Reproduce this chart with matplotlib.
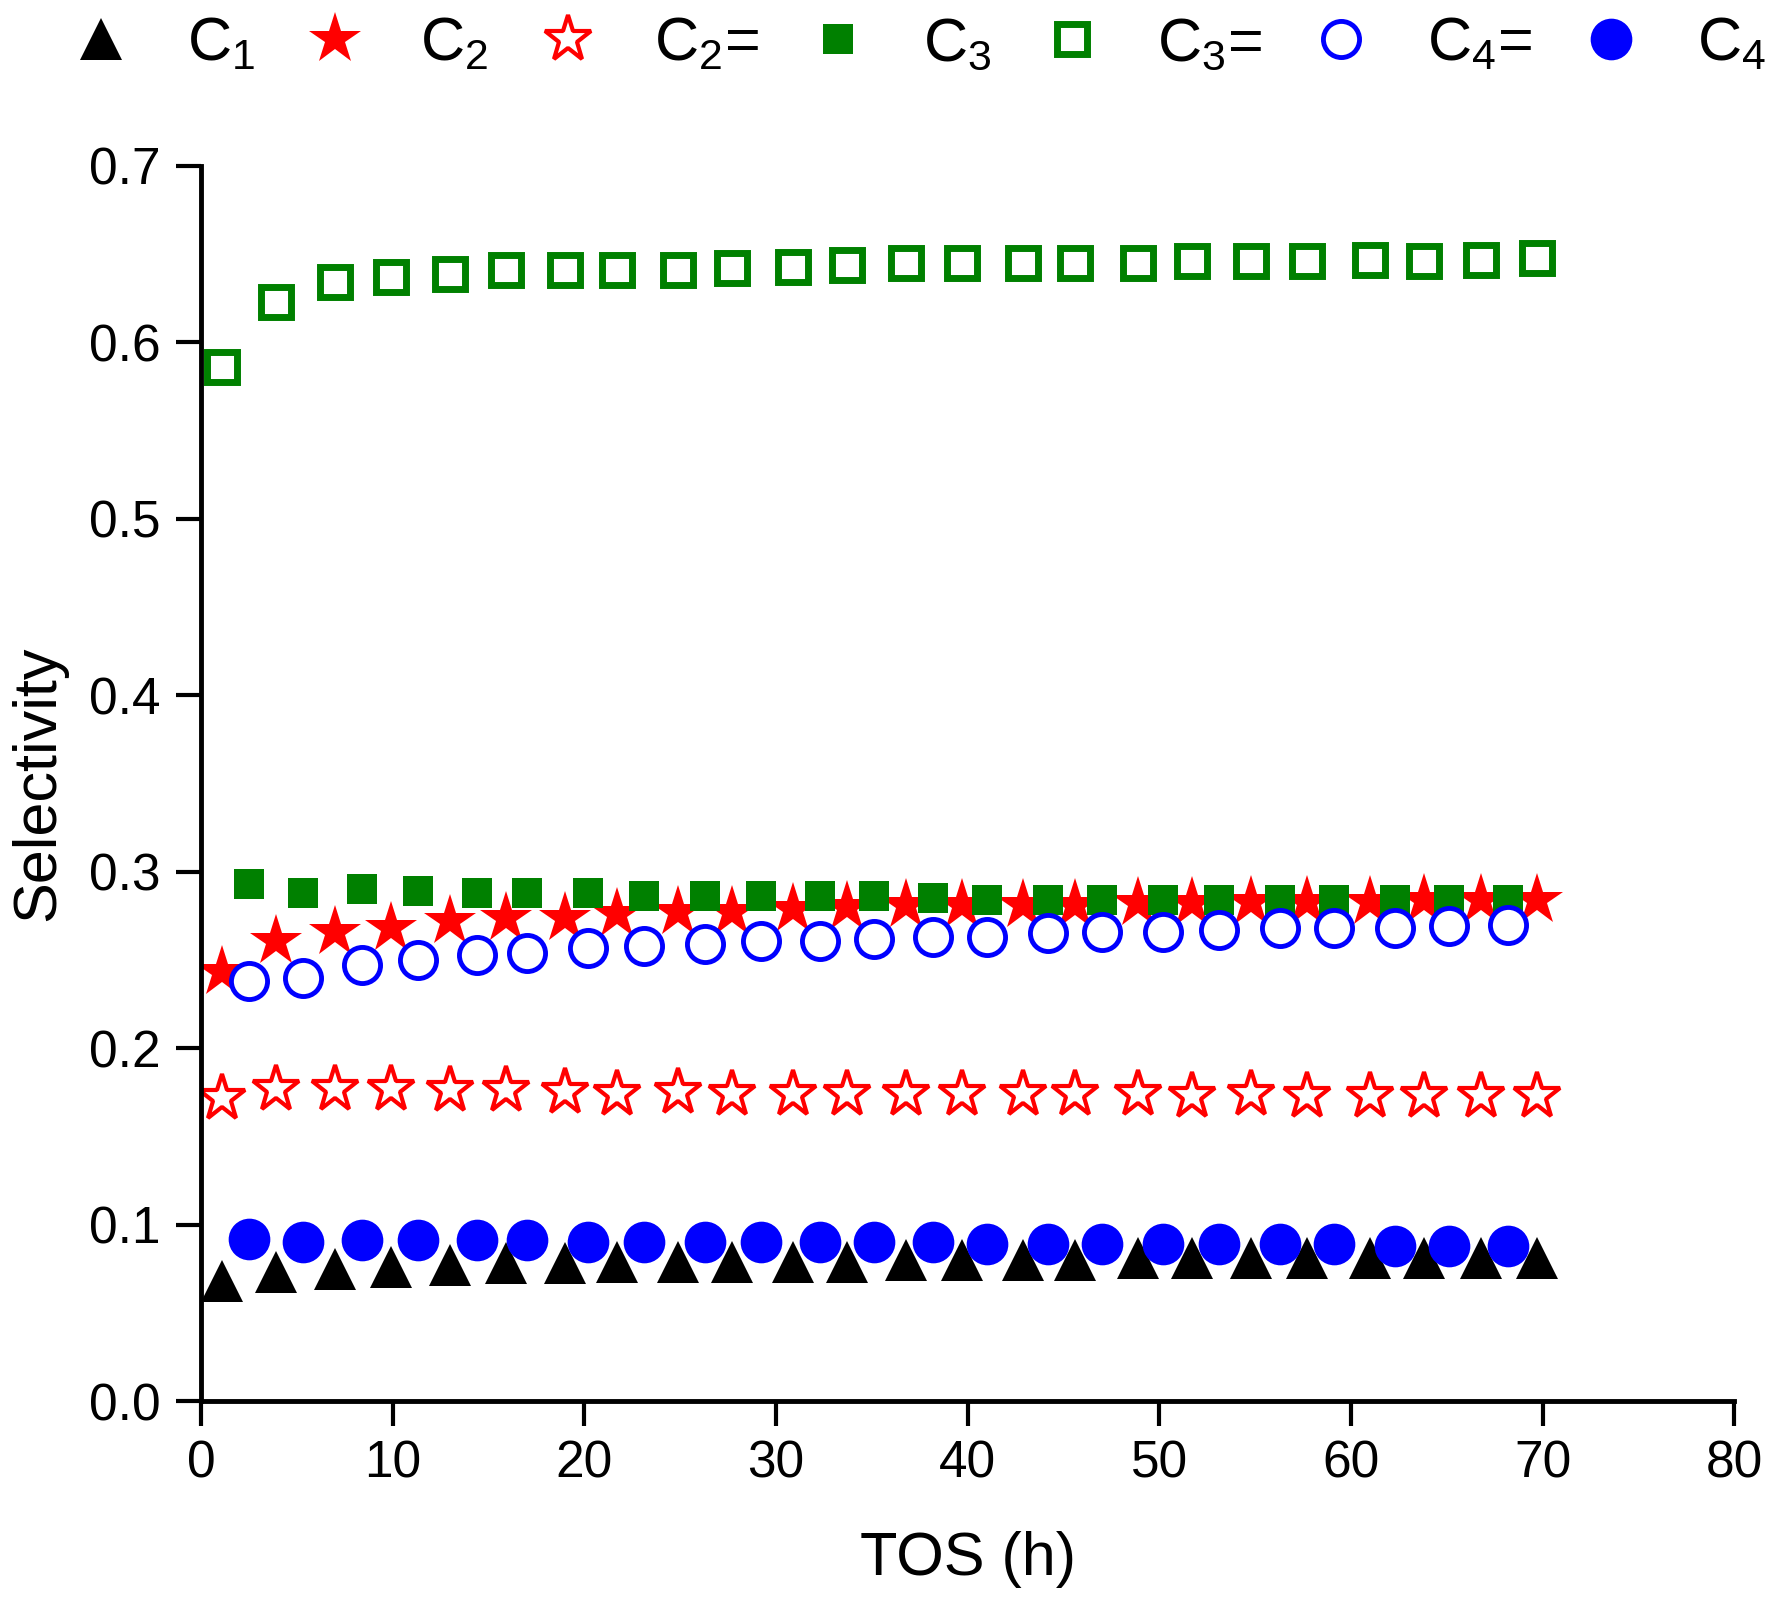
import matplotlib
matplotlib.use("Agg")
from matplotlib import pyplot as plt

plt.rcParams["font.family"] = ["Liberation Sans", "DejaVu Sans"]
plt.rcParams["mathtext.fontset"] = "custom"
plt.rcParams["mathtext.rm"] = "Liberation Sans"
plt.rcParams["mathtext.default"] = "regular"

# time on stream (h), two interleaved sampling sets
tos_a = [1.1, 3.9, 7.0, 9.9, 13.0, 15.9, 19.0, 21.7, 24.9, 27.7, 30.9, 33.7,
         36.8, 39.7, 42.9, 45.6, 48.9, 51.7, 54.8, 57.7, 61.0, 63.8, 66.8, 69.7]
tos_b = [2.5, 5.3, 8.4, 11.3, 14.4, 17.0, 20.2, 23.1, 26.3, 29.2, 32.3, 35.1,
         38.2, 41.0, 44.2, 47.0, 50.2, 53.1, 56.3, 59.1, 62.3, 65.1, 68.2]

c1 = [0.068, 0.073, 0.075, 0.076, 0.077, 0.078, 0.078, 0.079, 0.079, 0.079, 0.079, 0.079,
      0.080, 0.080, 0.080, 0.080, 0.081, 0.081, 0.081, 0.081, 0.081, 0.081, 0.081, 0.081]
c2 = [0.243, 0.261, 0.266, 0.268, 0.272, 0.274, 0.274, 0.276, 0.277, 0.277, 0.279, 0.280,
      0.281, 0.281, 0.281, 0.281, 0.282, 0.282, 0.283, 0.283, 0.283, 0.284, 0.284, 0.284]
c2_ene = [0.172, 0.177, 0.177, 0.177, 0.176, 0.176, 0.175, 0.174, 0.175, 0.174, 0.174, 0.174,
          0.174, 0.174, 0.174, 0.174, 0.174, 0.173, 0.174, 0.173, 0.173, 0.173, 0.173, 0.173]
c3 = [0.293, 0.288, 0.290, 0.289, 0.288, 0.288, 0.288, 0.286, 0.286, 0.286, 0.286, 0.286,
      0.285, 0.284, 0.284, 0.284, 0.284, 0.284, 0.284, 0.284, 0.284, 0.284, 0.284]
c3_ene = [0.586, 0.623, 0.634, 0.637, 0.639, 0.641, 0.641, 0.641, 0.641, 0.642, 0.643, 0.644,
          0.645, 0.645, 0.645, 0.645, 0.645, 0.646, 0.646, 0.646, 0.647, 0.646, 0.647, 0.648]
c4_ene = [0.238, 0.240, 0.247, 0.250, 0.253, 0.254, 0.257, 0.258, 0.259, 0.261, 0.261, 0.262,
          0.263, 0.263, 0.265, 0.266, 0.266, 0.267, 0.268, 0.268, 0.268, 0.269, 0.270]
c4 = [0.092, 0.090, 0.091, 0.091, 0.091, 0.091, 0.090, 0.090, 0.090, 0.090, 0.090, 0.090,
      0.090, 0.089, 0.089, 0.089, 0.089, 0.089, 0.089, 0.089, 0.088, 0.088, 0.088]

labels = ["C$_1$", "C$_2$", "C$_2$=", "C$_3$", "C$_3$=", "C$_4$=", "C$_4$"]

fig = plt.figure(figsize=(17.73, 16.10), dpi=100)
ax = fig.add_axes([0.1134, 0.1298, 0.8647, 0.7671])

ax.plot(tos_a, c1, ls="none", marker="^", ms=30, color="black", mew=0, label=labels[0])
ax.plot(tos_a, c2, ls="none", marker="*", ms=39, color="red", mew=0, label=labels[1])
ax.plot(tos_a, c2_ene, ls="none", marker="*", ms=35, mec="red", mfc="white", mew=3, label=labels[2])
ax.plot(tos_b, c3, ls="none", marker="s", ms=22, color="green", mew=0, label=labels[3])
ax.plot(tos_a, c3_ene, ls="none", marker="s", ms=22, mec="green", mfc="white", mew=5, label=labels[4])
ax.plot(tos_b, c4_ene, ls="none", marker="o", ms=26, mec="blue", mfc="white", mew=3.5, label=labels[5])
ax.plot(tos_b, c4, ls="none", marker="o", ms=30, color="blue", mew=0, label=labels[6])

ax.set_xlim(0, 80)
ax.set_ylim(0, 0.7)
ax.set_xticks(range(0, 81, 10))
ax.set_yticks([0.0, 0.1, 0.2, 0.3, 0.4, 0.5, 0.6, 0.7])
ax.set_yticklabels(["0.0", "0.1", "0.2", "0.3", "0.4", "0.5", "0.6", "0.7"])
for side in ["top", "right"]:
  ax.spines[side].set_visible(False)
for side in ["left", "bottom"]:
  ax.spines[side].set_linewidth(3.5)
ax.tick_params(axis="both", direction="out", length=18, width=3, labelsize=37)
ax.tick_params(axis="x", pad=10)
ax.tick_params(axis="y", pad=11)
ax.set_xlabel("TOS (h)", fontsize=44, labelpad=30)
ax.set_ylabel("Selectivity", fontsize=44, labelpad=16)

handles, labs = ax.get_legend_handles_labels()
fig.legend(handles, labs, loc="center", bbox_to_anchor=(0.518, 0.972), ncol=7,
           frameon=False, fontsize=44, handlelength=1.0, handletextpad=0.9,
           columnspacing=0.8, borderaxespad=0, borderpad=0)

fig.savefig("out.png", dpi=100)
